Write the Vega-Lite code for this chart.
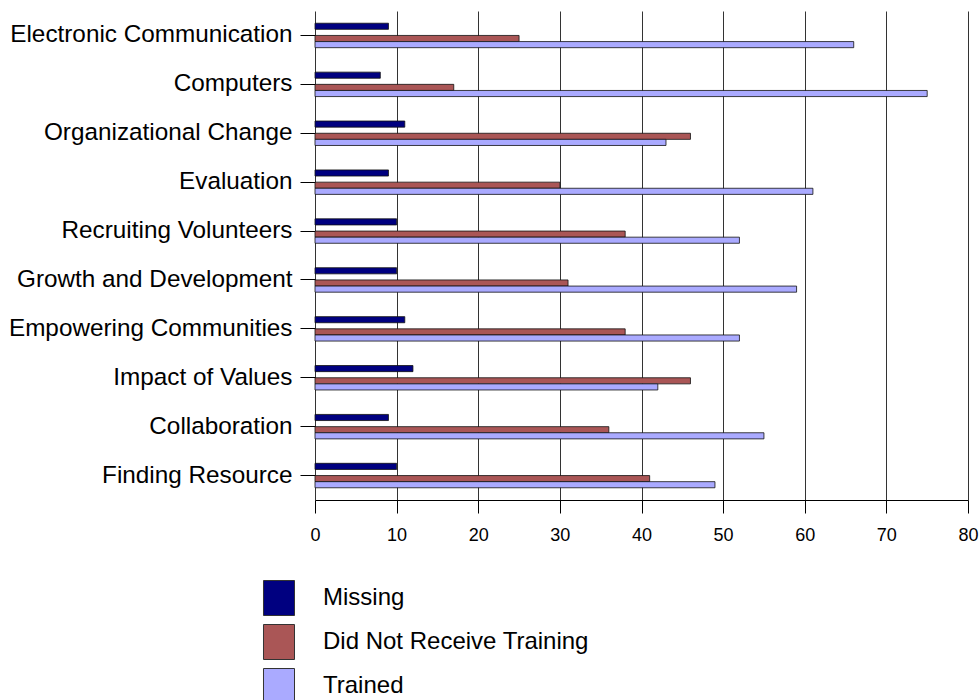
{
  "$schema": "https://vega.github.io/schema/vega-lite/v6.json",
  "autosize": "none",
  "padding": {"left": 315, "top": 11, "right": 11, "bottom": 200},
  "width": 653,
  "height": 489,
  "background": "white",
  "config": {
    "font": "Liberation Sans",
    "view": {"stroke": null}
  },
  "data": {
    "values": [
      {"category": "Electronic Communication", "series": "Missing", "value": 9},
      {"category": "Electronic Communication", "series": "Did Not Receive Training", "value": 25},
      {"category": "Electronic Communication", "series": "Trained", "value": 66},
      {"category": "Computers", "series": "Missing", "value": 8},
      {"category": "Computers", "series": "Did Not Receive Training", "value": 17},
      {"category": "Computers", "series": "Trained", "value": 75},
      {"category": "Organizational Change", "series": "Missing", "value": 11},
      {"category": "Organizational Change", "series": "Did Not Receive Training", "value": 46},
      {"category": "Organizational Change", "series": "Trained", "value": 43},
      {"category": "Evaluation", "series": "Missing", "value": 9},
      {"category": "Evaluation", "series": "Did Not Receive Training", "value": 30},
      {"category": "Evaluation", "series": "Trained", "value": 61},
      {"category": "Recruiting Volunteers", "series": "Missing", "value": 10},
      {"category": "Recruiting Volunteers", "series": "Did Not Receive Training", "value": 38},
      {"category": "Recruiting Volunteers", "series": "Trained", "value": 52},
      {"category": "Growth and Development", "series": "Missing", "value": 10},
      {"category": "Growth and Development", "series": "Did Not Receive Training", "value": 31},
      {"category": "Growth and Development", "series": "Trained", "value": 59},
      {"category": "Empowering Communities", "series": "Missing", "value": 11},
      {"category": "Empowering Communities", "series": "Did Not Receive Training", "value": 38},
      {"category": "Empowering Communities", "series": "Trained", "value": 52},
      {"category": "Impact of Values", "series": "Missing", "value": 12},
      {"category": "Impact of Values", "series": "Did Not Receive Training", "value": 46},
      {"category": "Impact of Values", "series": "Trained", "value": 42},
      {"category": "Collaboration", "series": "Missing", "value": 9},
      {"category": "Collaboration", "series": "Did Not Receive Training", "value": 36},
      {"category": "Collaboration", "series": "Trained", "value": 55},
      {"category": "Finding Resource", "series": "Missing", "value": 10},
      {"category": "Finding Resource", "series": "Did Not Receive Training", "value": 41},
      {"category": "Finding Resource", "series": "Trained", "value": 49}
    ]
  },
  "mark": {"type": "bar", "stroke": "#111", "strokeWidth": 0.8},
  "encoding": {
    "y": {
      "field": "category",
      "type": "nominal",
      "sort": null,
      "scale": {"paddingInner": 0.5, "paddingOuter": 0.25},
      "axis": {
        "title": null,
        "domain": false,
        "ticks": true,
        "tickSize": 15,
        "tickColor": "#000",
        "labelFontSize": 24.3,
        "labelColor": "#000",
        "labelPadding": 8,
        "labelLimit": 400,
        "grid": false
      }
    },
    "yOffset": {
      "field": "series",
      "type": "nominal",
      "scale": {"domain": ["Missing", "_gap", "Did Not Receive Training", "Trained"], "paddingInner": 0, "paddingOuter": 0}
    },
    "x": {
      "field": "value",
      "type": "quantitative",
      "scale": {"domain": [0, 80], "nice": false},
      "axis": {
        "title": null,
        "values": [0, 10, 20, 30, 40, 50, 60, 70, 80],
        "grid": true,
        "gridColor": "#333",
        "gridWidth": 1,
        "domain": true,
        "domainColor": "#000",
        "tickColor": "#000",
        "tickSize": 13,
        "labelFontSize": 18,
        "labelColor": "#000",
        "labelPadding": 13,
        "labelFlush": false
      }
    },
    "color": {
      "field": "series",
      "type": "nominal",
      "scale": {
        "domain": ["Missing", "Did Not Receive Training", "Trained"],
        "range": ["#000080", "#AA5656", "#AAAAFF"]
      },
      "legend": {
        "title": null,
        "orient": "none",
        "legendX": -54,
        "legendY": 569,
        "padding": 0,
        "symbolType": "M-0.886,-1H0.886V1H-0.886Z",
        "symbolSize": 1225,
        "symbolStrokeColor": "#333",
        "symbolStrokeWidth": 1,
        "symbolOpacity": 1,
        "labelFontSize": 24,
        "labelColor": "#000",
        "labelOffset": 26,
        "labelLimit": 500,
        "rowPadding": 4
      }
    }
  }
}
